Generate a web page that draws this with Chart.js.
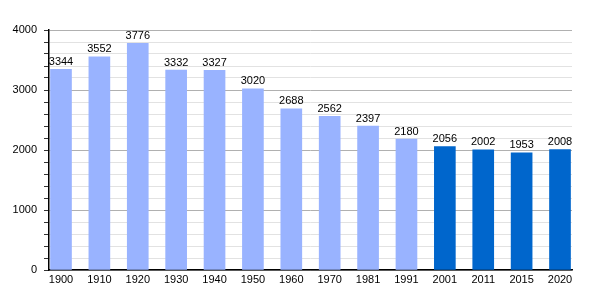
<!DOCTYPE html>
<html>
<head>
<meta charset="utf-8">
<script src="https://cdn.jsdelivr.net/npm/chart.js@4/dist/chart.umd.min.js"></script>
<style>
  body { margin: 0; background: #fff; }
  #c { display: block; }
</style>
</head>
<body>
<canvas id="c" width="600" height="300"></canvas>
<script>
// annees et population
const years = ['1900', '1910', '1920', '1930', '1940', '1950', '1960', '1970', '1981', '1991', '2001', '2011', '2015', '2020'];
const population = [3344, 3552, 3776, 3332, 3327, 3020, 2688, 2562, 2397, 2180, 2056, 2002, 1953, 2008];
const yTickLabels = [0, 1000, 2000, 3000, 4000];

// avant 2001 bleu clair, ensuite bleu fonce
const barColors = years.map(y => Number(y) < 2000 ? '#99b3ff' : '#0066cc');

const font = { family: 'Liberation Sans, Arial, sans-serif', size: 11 };

// les nombres au dessus des barres
const valueLabels = {
  id: 'valueLabels',
  afterDatasetsDraw(chart) {
    const ctx = chart.ctx;
    const meta = chart.getDatasetMeta(0);
    ctx.save();
    ctx.font = '11px Liberation Sans, Arial, sans-serif';
    ctx.fillStyle = '#000';
    ctx.textAlign = 'center';
    ctx.textBaseline = 'bottom';
    meta.data.forEach((bar, i) => {
      ctx.fillText(population[i], bar.x, bar.y - 2);
    });
    ctx.restore();
  }
};

new Chart(document.getElementById('c'), {
  type: 'bar',
  data: {
    datasets: [{
      data: population.map((v, i) => ({ x: i, y: v })),
      backgroundColor: barColors,
      barThickness: 21
    }]
  },
  options: {
    responsive: false,
    animation: false,
    layout: { padding: { top: 30, right: 28, left: 0, bottom: 0 } },
    plugins: { legend: { display: false }, tooltip: { enabled: false } },
    scales: {
      x: {
        type: 'linear',
        offset: false,
        min: -0.3125,
        max: 13.3125,
        grid: { display: false, drawTicks: false },
        border: { color: '#000', width: 1.5 },
        ticks: {
          stepSize: 1,
          includeBounds: false,
          autoSkip: false,
          maxRotation: 0,
          color: '#000',
          font: font,
          padding: 3,
          callback: v => Number.isInteger(v) ? years[v] : ''
        },
        afterFit: s => { s.height = 30; }
      },
      y: {
        min: 0,
        max: 4000,
        grid: {
          color: c => (c.tick && yTickLabels.includes(c.tick.value)) ? '#b0b0b0' : '#e2e2e2',
          tickColor: '#333',
          tickLength: 5
        },
        border: { color: '#000', width: 1.5 },
        ticks: {
          stepSize: 200,
          autoSkip: false,
          color: '#000',
          font: font,
          padding: 7,
          callback: v => yTickLabels.includes(v) ? v : ''
        },
        afterFit: s => { s.width = 49; }
      }
    }
  },
  plugins: [valueLabels]
});
</script>
</body>
</html>
